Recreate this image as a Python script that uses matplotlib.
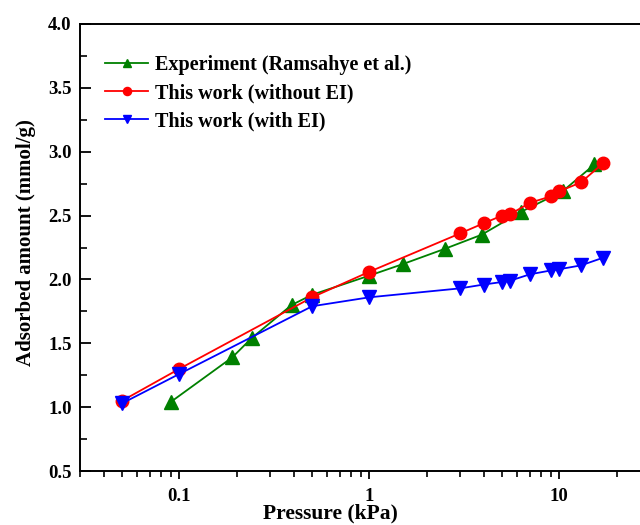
import matplotlib
matplotlib.use('Agg')
import matplotlib.pyplot as plt
from matplotlib.ticker import MultipleLocator, LogLocator, NullFormatter, FixedLocator, FixedFormatter

# Experiment (Ramsahye et al.)
exp_p = [0.09, 0.19, 0.24, 0.39, 0.5, 1.0, 1.5, 2.5, 3.9, 6.3, 10.4, 15.3]
exp_q = [1.04, 1.39, 1.54, 1.80, 1.88, 2.03, 2.12, 2.24, 2.35, 2.53, 2.69, 2.90]

# This work (without EI)
noei_p = [0.05, 0.1, 0.5, 1.0, 3.0, 4.0, 5.0, 5.5, 7.0, 9.0, 10.0, 13.0, 17.0]
noei_q = [1.05, 1.30, 1.86, 2.06, 2.36, 2.44, 2.50, 2.51, 2.60, 2.65, 2.69, 2.76, 2.91]

# This work (with EI)
ei_p = [0.05, 0.1, 0.5, 1.0, 3.0, 4.0, 5.0, 5.5, 7.0, 9.0, 10.0, 13.0, 17.0]
ei_q = [1.03, 1.26, 1.79, 1.86, 1.93, 1.96, 1.98, 1.99, 2.04, 2.07, 2.08, 2.11, 2.17]

xticks = [0.1, 1, 10]
xtick_labels = ['0.1', '1', '10']

plt.rcParams['font.family'] = ['Liberation Serif', 'DejaVu Serif']
plt.rcParams['font.weight'] = 'bold'

fig = plt.figure(figsize=(6.4, 5.25), dpi=100)
# right spine falls just outside the picture, as in the reference
ax = fig.add_axes([80 / 640, 1 - 471 / 525, 570 / 640, (471 - 24) / 525])

ax.plot(exp_p, exp_q, color='green', marker='^', markersize=9.5, linewidth=1.3,
        label='Experiment (Ramsahye et al.)')
ax.plot(noei_p, noei_q, color='red', marker='o', markersize=9, linewidth=1.3,
        label='This work (without EI)')
ax.plot(ei_p, ei_q, color='blue', marker='v', markersize=9.5, linewidth=1.3,
        label='This work (with EI)')

ax.set_xscale('log')
ax.set_xlim(0.03, 30)
ax.set_ylim(0.5, 4.0)

ax.xaxis.set_major_locator(FixedLocator(xticks))
ax.xaxis.set_major_formatter(FixedFormatter(xtick_labels))
ax.xaxis.set_minor_locator(LogLocator(base=10, subs=range(2, 10)))
ax.xaxis.set_minor_formatter(NullFormatter())
ax.yaxis.set_major_locator(MultipleLocator(0.5))
ax.yaxis.set_minor_locator(MultipleLocator(0.25))
ax.yaxis.set_major_formatter(plt.FormatStrFormatter('%.1f'))

ax.tick_params(axis='x', which='major', direction='out', length=6, width=1.3, labelsize=13.5, pad=6)
ax.tick_params(axis='x', which='minor', direction='out', length=4, width=1.2)
ax.tick_params(axis='y', which='major', direction='in', length=8, width=1.3, labelsize=13.5, pad=6)
ax.tick_params(axis='y', which='minor', direction='in', length=5, width=1.2)
ax.tick_params(top=False, right=False, which='both')

for s in ax.spines.values():
    s.set_linewidth(1.4)

ax.set_xlabel('Pressure (kPa)', fontsize=15.5, fontweight='bold')
ax.set_ylabel('Adsorbed amount (mmol/g)', fontsize=15, fontweight='bold')
ax.xaxis.set_label_coords(0.44, -0.072)
ax.yaxis.set_label_coords(-0.078, 0.51)

leg = ax.legend(loc='upper left', bbox_to_anchor=(0.044, 0.93), frameon=False,
                markerscale=0.65, handlelength=2.15, handletextpad=0.35,
                labelspacing=0.4, borderpad=0, borderaxespad=0,
                prop={'weight': 'bold', 'size': 14.5})

fig.savefig('out.png', dpi=100)
